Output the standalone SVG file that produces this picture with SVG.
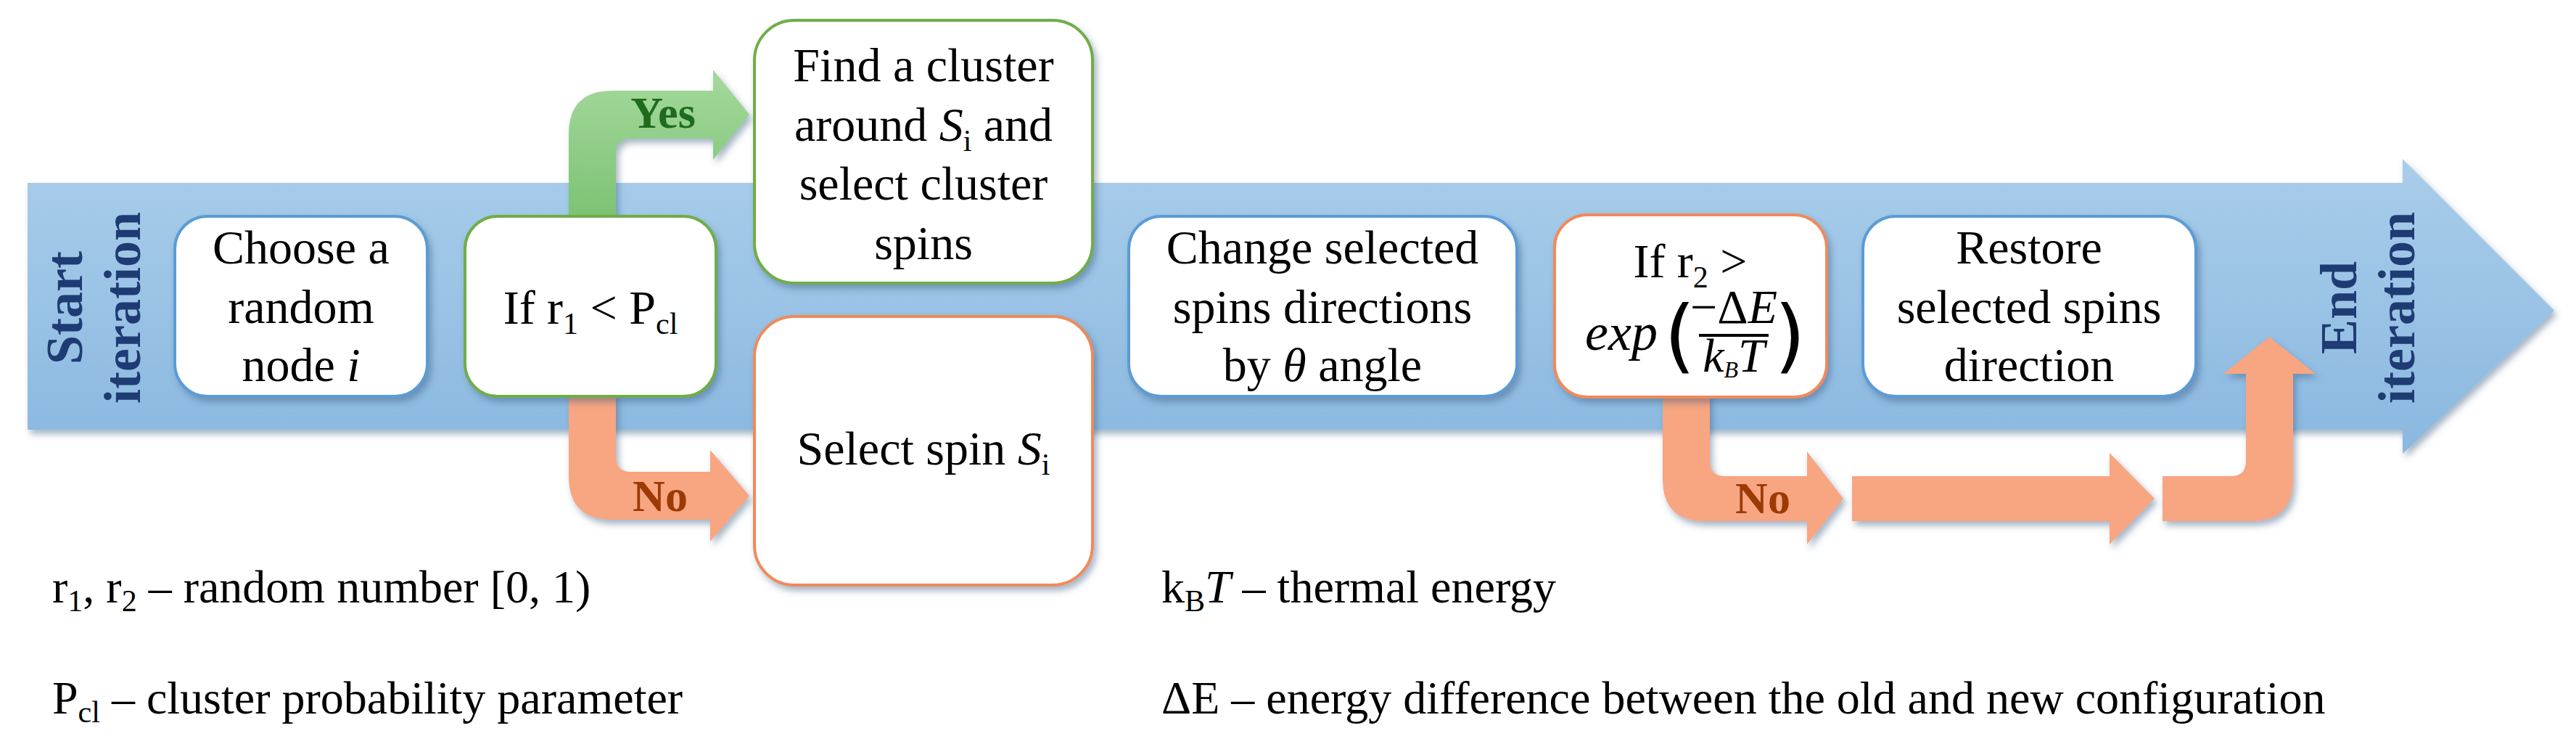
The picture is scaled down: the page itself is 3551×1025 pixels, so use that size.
<svg xmlns="http://www.w3.org/2000/svg" width="3551" height="1025" viewBox="0 0 3551 1025">
<defs>
<linearGradient id="gBlue" x1="0" y1="0" x2="0" y2="1"><stop offset="0" stop-color="#a9cdea"/><stop offset="1" stop-color="#8ab8e0"/></linearGradient>
<linearGradient id="gGreen" x1="0" y1="0" x2="0" y2="1"><stop offset="0" stop-color="#a5d99c"/><stop offset="1" stop-color="#7cc374"/></linearGradient>
<filter id="sh" x="-10%" y="-10%" width="130%" height="130%"><feDropShadow dx="4" dy="6" stdDeviation="5" flood-color="#3a5a80" flood-opacity="0.45"/></filter>
</defs>
<style>
.box{fill:#fff;stroke-width:4;filter:url(#sh)}
.bl{stroke:#5b9bd5}
.gr{stroke:#70ad47}
.or{stroke:#f08a5a}
.t{font-family:"Liberation Serif",serif;font-size:66px;fill:#000;text-anchor:middle}
.lg{font-family:"Liberation Serif",serif;font-size:64px;fill:#000}
.lab{font-family:"Liberation Serif",serif;font-size:62px;font-weight:bold;text-anchor:middle}
.it{font-family:"Liberation Serif",serif;font-size:72px;font-weight:bold;fill:#1f3b73;text-anchor:middle}
.oa{fill:#f8a581;filter:url(#sh)}
.ga{fill:url(#gGreen);filter:url(#sh)}
.par{font-family:"DejaVu Sans",sans-serif;font-size:110px;font-weight:normal;fill:#000}
</style>
<rect width="3551" height="1025" fill="#fff"/>
<g id="band"><polygon points="38,252 3312,252 3312,219 3521,428 3312,625 3312,592 38,592" fill="url(#gBlue)" filter="url(#sh)"/>
<text class="it" transform="translate(113,424) rotate(-90)">Start</text>
<text class="it" transform="translate(193,424) rotate(-90)">iteration</text>
<text class="it" transform="translate(3248,424) rotate(-90)">End</text>
<text class="it" transform="translate(3328,424) rotate(-90)">iteration</text></g>
<g id="connectors">
<path class="ga" d="M784,300 L784,185 Q784,125 844,125 L983,125 L983,96 L1033,158 L983,220 L983,191 L870,191 Q849,191 849,212 L849,300 Z"/>
<path class="oa" d="M784,540 L784,656 Q784,716 844,716 L979,716 L979,746 L1033,683 L979,620 L979,650 L870,650 Q849,650 849,629 L849,540 Z"/>
<path class="oa" d="M2292,540 L2292,660 Q2292,718 2350,718 L2491,718 L2491,750 L2541,687 L2491,622 L2491,656 L2378,656 Q2357,656 2357,635 L2357,540 Z"/>
<path class="oa" d="M2553,656 L2908,656 L2908,624 L2970,687 L2908,750 L2908,718 L2553,718 Z"/>
<path class="oa" d="M2981,656 L3075,656 Q3096,656 3096,635 L3096,515 L3065,515 L3128,464 L3192,515 L3161,515 L3161,660 Q3161,718 3103,718 L2981,718 Z"/>
<text class="lab" x="914" y="176" fill="#1e6b1e">Yes</text>
<text class="lab" x="910" y="704" fill="#9c3a06">No</text>
<text class="lab" x="2430" y="707" fill="#9c3a06">No</text>
</g>
<g id="n1"><rect class="box bl" x="241" y="298" width="348" height="248" rx="45"/>
<text class="t" x="415" y="363">Choose a</text><text class="t" x="415" y="445">random</text><text class="t" x="415" y="525">node <tspan font-style="italic">i</tspan></text></g>
<g id="n2"><rect class="box gr" x="641" y="298" width="346" height="248" rx="45"/>
<text class="t" x="814" y="446">If r<tspan font-size="42" dy="14">1</tspan><tspan dy="-14"> &lt; P</tspan><tspan font-size="42" dy="14">cl</tspan></text></g>
<g id="n3"><rect class="box gr" x="1040" y="28" width="466" height="362" rx="55"/>
<text class="t" x="1273" y="112">Find a cluster</text><text class="t" x="1273" y="194">around <tspan font-style="italic">S</tspan><tspan font-size="42" dy="14">i</tspan><tspan dy="-14"> and</tspan></text><text class="t" x="1273" y="275">select cluster</text><text class="t" x="1273" y="357">spins</text></g>
<g id="n4"><rect class="box or" x="1040" y="436" width="466" height="370" rx="55"/>
<text class="t" x="1273" y="640">Select spin <tspan font-style="italic">S</tspan><tspan font-size="42" dy="14">i</tspan></text></g>
<g id="n5"><rect class="box bl" x="1556" y="298" width="535" height="248" rx="45"/>
<text class="t" x="1823" y="363">Change selected</text><text class="t" x="1823" y="445">spins directions</text><text class="t" x="1823" y="525">by <tspan font-style="italic">θ</tspan> angle</text></g>
<g id="n6"><rect class="box or" x="2143" y="296" width="375" height="251" rx="45"/>
<text class="t" x="2330" y="382">If r<tspan font-size="42" dy="14">2</tspan><tspan dy="-14"> &gt;</tspan></text>
<text x="2185" y="482" font-family="Liberation Serif, serif" font-style="italic" font-size="72">exp</text>
<text class="par" x="2294" y="500">(</text>
<text class="par" x="2446" y="500">)</text>
<text class="t" x="2390" y="445" font-size="44"><tspan>−Δ</tspan><tspan font-style="italic">E</tspan></text>
<line x1="2342" y1="462" x2="2438" y2="462" stroke="#000" stroke-width="4"/>
<text class="t" x="2390" y="512" font-size="46" font-style="italic">k<tspan font-size="32" dy="8">B</tspan><tspan dy="-8">T</tspan></text></g>
<g id="n7"><rect class="box bl" x="2568" y="298" width="459" height="248" rx="45"/>
<text class="t" x="2797" y="363">Restore</text><text class="t" x="2797" y="445">selected spins</text><text class="t" x="2797" y="525">direction</text></g>
<g id="legend">
<text class="lg" x="72" y="830">r<tspan font-size="42" dy="12">1</tspan><tspan dy="-12">, r</tspan><tspan font-size="42" dy="12">2</tspan><tspan dy="-12"> – random number [0, 1)</tspan></text>
<text class="lg" x="72" y="983">P<tspan font-size="42" dy="12">cl</tspan><tspan dy="-12"> – cluster probability parameter</tspan></text>
<text class="lg" x="1601" y="830">k<tspan font-size="42" dy="12">B</tspan><tspan dy="-12" font-style="italic">T</tspan><tspan> – thermal energy</tspan></text>
<text class="lg" x="1601" y="983">ΔE – energy difference between the old and new configuration</text>
</g>
</svg>
